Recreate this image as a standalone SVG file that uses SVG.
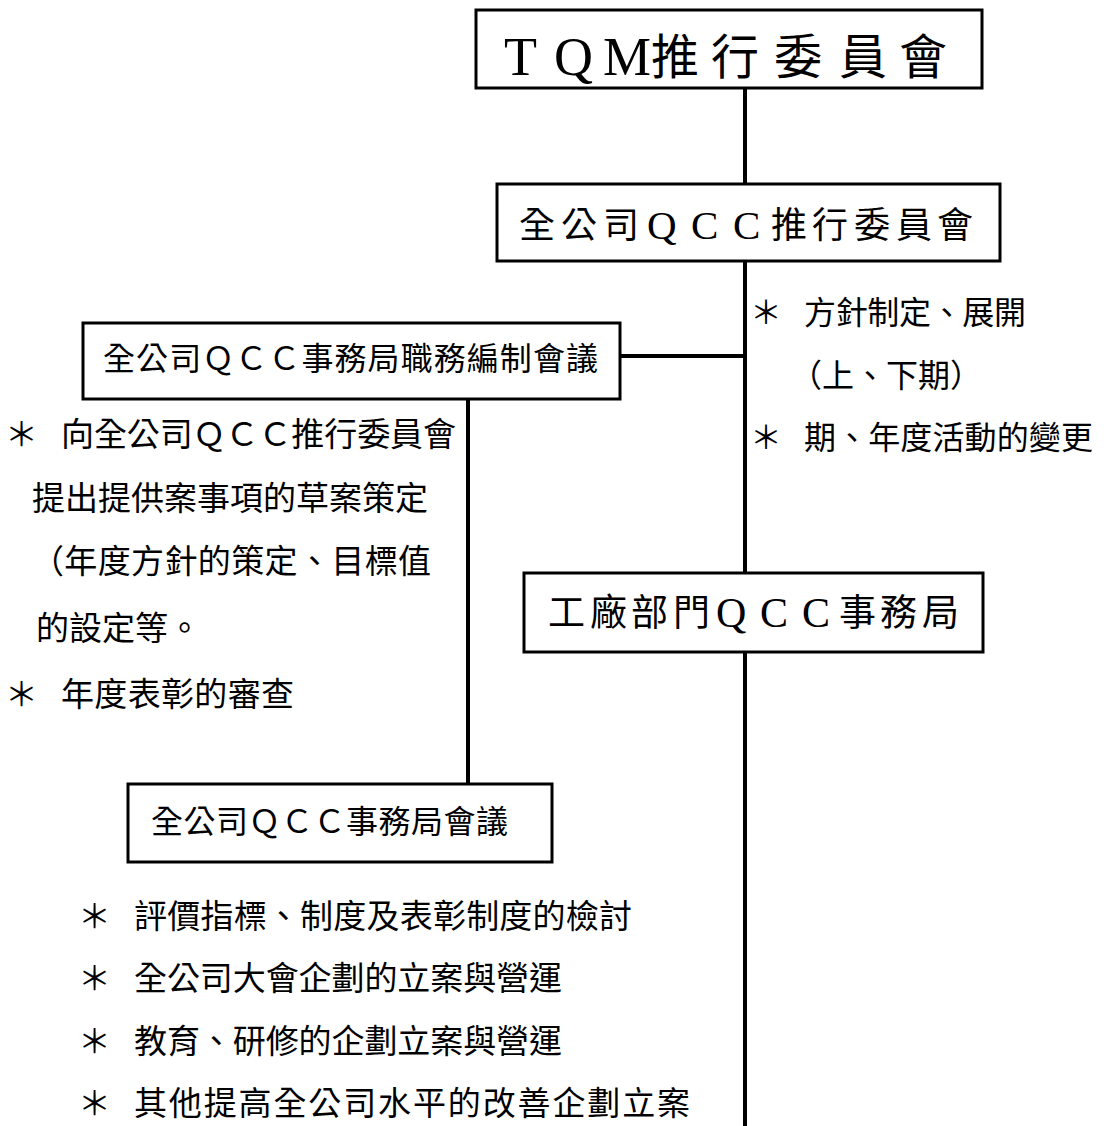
<svg xmlns="http://www.w3.org/2000/svg" width="1109" height="1126" viewBox="0 0 1109 1126">
<style>
.box{fill:#fff;stroke:#000;stroke-width:3}
.con{stroke:#000;stroke-width:4;fill:none}
.cjk{font-family:"Noto Sans CJK TC","Noto Sans CJK JP",sans-serif;fill:#000}
.lat{font-family:"Liberation Serif",serif;fill:#000}
.body{font-family:"Noto Sans CJK TC","Noto Sans CJK JP",sans-serif;fill:#000;font-size:33px}
.rbody{font-family:"Noto Sans CJK TC","Noto Sans CJK JP",sans-serif;fill:#000;font-size:32px}
</style>
<rect width="1109" height="1126" fill="#fff"/>
<g id="connectors">
<line class="con" x1="745" y1="88" x2="745" y2="184"/>
<line class="con" x1="745" y1="260" x2="745" y2="573"/>
<line class="con" x1="745" y1="651" x2="745" y2="1126"/>
<line class="con" x1="620" y1="356" x2="745" y2="356"/>
<line class="con" x1="468" y1="399" x2="468" y2="783"/>
</g>
<g id="tqm">
<rect class="box" x="476" y="10" width="506" height="78"/>
<text y="75" font-size="54" class="lat"><tspan x="504">T</tspan><tspan x="554">Q</tspan><tspan x="603">M</tspan></text>
<text y="74" font-size="48" class="cjk"><tspan x="651">推</tspan><tspan x="711">行</tspan><tspan x="774">委</tspan><tspan x="839">員</tspan><tspan x="899">會</tspan></text>
</g>
<g id="company-qcc">
<rect class="box" x="497" y="184" width="503" height="77"/>
<text y="238" font-size="36" class="cjk"><tspan x="519">全</tspan><tspan x="561">公</tspan><tspan x="603">司</tspan><tspan x="771">推</tspan><tspan x="812">行</tspan><tspan x="854">委</tspan><tspan x="896">員</tspan><tspan x="937">會</tspan></text>
<text y="239" font-size="41" class="lat"><tspan x="647">Q</tspan><tspan x="691">C</tspan><tspan x="733">C</tspan></text>
</g>
<g id="staff-meeting">
<rect class="box" x="83" y="323" width="537" height="76"/>
<text x="103" y="370" font-size="32" class="cjk" textLength="495" lengthAdjust="spacing">全公司ＱＣＣ事務局職務編制會議</text>
</g>
<g id="factory-qcc">
<rect class="box" x="524" y="573" width="459" height="79"/>
<text y="626" font-size="37" class="cjk"><tspan x="548">工</tspan><tspan x="590">廠</tspan><tspan x="631">部</tspan><tspan x="673">門</tspan><tspan x="839">事</tspan><tspan x="880">務</tspan><tspan x="922">局</tspan></text>
<text y="627" font-size="42" class="lat"><tspan x="716">Q</tspan><tspan x="760">C</tspan><tspan x="802">C</tspan></text>
</g>
<g id="office-meeting">
<rect class="box" x="128" y="784" width="424" height="78"/>
<text x="151" y="833" font-size="32" class="cjk" textLength="357" lengthAdjust="spacing">全公司ＱＣＣ事務局會議</text>
</g>
<g id="right-notes" class="rbody">
<text x="750" y="324">＊</text>
<text x="804" y="324" textLength="222" lengthAdjust="spacing">方針制定、展開</text>
<text x="790" y="387" textLength="192" lengthAdjust="spacing">（上、下期）</text>
<text x="750" y="449">＊</text>
<text x="804" y="449" textLength="289" lengthAdjust="spacing">期、年度活動的變更</text>
</g>
<g id="left-notes" class="body">
<text x="5" y="446">＊</text>
<text x="61" y="446" textLength="395" lengthAdjust="spacing">向全公司ＱＣＣ推行委員會</text>
<text x="32" y="510" textLength="396" lengthAdjust="spacing">提出提供案事項的草案策定</text>
<text x="31" y="573" textLength="400" lengthAdjust="spacing">（年度方針的策定、目標值</text>
<text x="36" y="640">的設定等。</text>
<text x="5" y="706">＊</text>
<text x="61" y="706" textLength="233" lengthAdjust="spacing">年度表彰的審查</text>
</g>
<g id="bottom-notes" class="body">
<text x="78" y="928">＊</text>
<text x="134" y="928" textLength="498" lengthAdjust="spacing">評價指標、制度及表彰制度的檢討</text>
<text x="78" y="990">＊</text>
<text x="134" y="990" textLength="428" lengthAdjust="spacing">全公司大會企劃的立案與營運</text>
<text x="78" y="1053">＊</text>
<text x="134" y="1053" textLength="428" lengthAdjust="spacing">教育、研修的企劃立案與營運</text>
<text x="78" y="1115">＊</text>
<text x="134" y="1115" textLength="556" lengthAdjust="spacing">其他提高全公司水平的改善企劃立案</text>
</g>
</svg>
